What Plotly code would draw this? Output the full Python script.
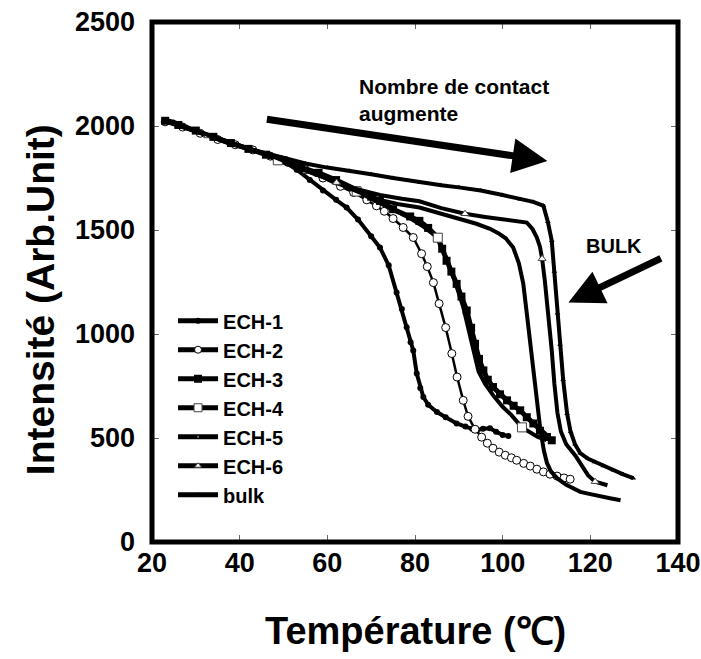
import plotly.graph_objects as go

# ---------------- data ----------------
ech1_T = [23, 26, 30, 34, 38, 42, 46, 50, 53, 56, 59, 62, 64.4, 67, 70, 72, 74, 75.8, 77, 78.1,
          79, 79.6, 80.4, 81.2, 81.9, 83, 85, 87, 89.5, 91.5, 93, 94.1, 95.5, 97.1, 98.5, 100, 101.3]
ech1_I = [2025, 2005, 1975, 1945, 1915, 1890, 1865, 1830, 1790, 1740, 1690, 1645, 1608, 1550, 1470, 1416, 1330, 1200, 1120, 1033,
          960, 921, 810, 740, 697, 660, 625, 600, 570, 555, 545, 537, 545, 547, 530, 515, 510]

ech2_T = [23, 27, 31, 35, 39, 43, 47, 51, 55, 59, 63, 66, 69, 71.2, 73, 75, 77.3, 79.6, 81.5, 82.8,
          84.2, 85.5, 87, 88.4, 89.6, 91, 92.1, 93.7, 95.2, 96.5, 97.8, 99.2, 100.6, 102, 103.2, 104.8,
          106.3, 107.8, 109.3, 110.8, 112.4, 114, 115.4]
ech2_I = [2020, 1995, 1965, 1935, 1910, 1885, 1855, 1825, 1790, 1750, 1710, 1680, 1645, 1616, 1590, 1555, 1512, 1464, 1386, 1324,
          1247, 1146, 1031, 906, 793, 681, 604, 542, 504, 475, 451, 432, 417, 405, 393, 378,
          365, 350, 337, 326, 317, 308, 302]

ech3_T = [23, 26, 30, 34, 38, 42, 46, 50, 54, 58, 62, 66.7, 70, 72, 75, 78.9, 81, 83, 85.2, 86.2,
          87.2, 88.3, 89.5, 90.6, 91.8, 92.8, 93.7, 94.6, 95.6, 96.6, 97.8, 99.4, 101, 102.5, 104, 105.5,
          107, 108.5, 110.1, 111.2]
ech3_I = [2025, 2005, 1978, 1948, 1918, 1890, 1862, 1835, 1800, 1775, 1740, 1690, 1660, 1640, 1600, 1565, 1544, 1510, 1463, 1410,
          1352, 1300, 1241, 1180, 1113, 1030, 953, 880, 825, 780, 745, 710, 681, 655, 633, 600,
          570, 535, 505, 489]

ech4_T = [23, 27, 31, 35, 40, 44, 48.7, 53, 57, 62, 66.7, 71, 75, 79, 82, 85.2, 87, 89, 91, 92.5,
          93.5, 94.5, 96, 98, 100, 102, 104.4, 106, 108, 110]
ech4_I = [2025, 1995, 1968, 1940, 1905, 1878, 1835, 1800, 1770, 1735, 1685, 1640, 1598, 1555, 1515, 1463, 1370, 1260, 1130, 1000,
          900, 820, 760, 700, 650, 610, 551, 530, 505, 490]
ech4_mark_idx = [6, 10, 15, 26]

ech5_T = [23, 28, 33, 38, 43, 48, 52, 56, 60, 64, 68, 72, 76, 81, 85, 90, 94, 97.1, 99, 100.7,
          102.4, 103.7, 104.7, 105.5, 106.3, 107.5, 108.6, 109.4, 110.1, 111, 112.4, 114.5, 117.7, 120,
          122, 124.5, 126.9]
ech5_I = [2025, 1990, 1950, 1915, 1885, 1850, 1815, 1780, 1745, 1705, 1675, 1645, 1625, 1608, 1585, 1555, 1530, 1506, 1485, 1460,
          1416, 1340, 1242, 1100, 960, 750, 540, 440, 380, 340, 307, 275, 241, 230,
          220, 210, 201]

ech6_T = [23, 28, 32.7, 37, 42, 47, 52, 56, 62.1, 67, 72, 77, 81, 86, 91.4, 96, 100, 103, 105.5, 106.8,
          107.8, 108.5, 109, 109.6, 110.1, 110.7, 111.2, 111.8, 112.5, 113.3, 114.5, 116.6, 118, 119.5,
          121.1, 122.5, 123.9]
ech6_I = [2030, 1990, 1952, 1920, 1890, 1860, 1820, 1785, 1728, 1695, 1668, 1650, 1638, 1605, 1578, 1563, 1552, 1545, 1536, 1505,
          1464, 1420, 1362, 1260, 1160, 1040, 921, 760, 620, 530, 470, 415, 370, 320,
          290, 280, 273]
ech6_mark_idx = [2, 8, 14, 22, 34]

bulk_T = [23, 25, 28, 31, 34, 37, 40, 43, 46.9, 50, 55, 60, 65, 70, 75, 81.1, 86, 90, 95, 100,
          104, 107, 109.3, 110.3, 111.2, 111.8, 112.5, 113.1, 113.8, 114.7, 115.5, 116.5, 117.7, 119.5,
          121, 123, 125.3, 127.5, 129.8]
bulk_I = [2030, 2020, 1995, 1970, 1945, 1922, 1902, 1885, 1864, 1845, 1820, 1800, 1785, 1768, 1750, 1728, 1715, 1705, 1690, 1668,
          1648, 1635, 1616, 1540, 1448, 1300, 1100, 950, 780, 617, 530, 470, 427, 400,
          385, 365, 345, 325, 307]

x_ticks = [20, 40, 60, 80, 100, 120, 140]
y_ticks = [0, 500, 1000, 1500, 2000, 2500]
legend_names = ["ECH-1", "ECH-2", "ECH-3", "ECH-4", "ECH-5", "ECH-6", "bulk"]

# ---------------- figure ----------------
FONT = "Liberation Sans, Arial, sans-serif"
LW = 4
fig = go.Figure()

def add_line(T, I, **kw):
    fig.add_trace(go.Scatter(x=T, y=I, showlegend=False, hoverinfo="skip", **kw))

add_line(ech1_T, ech1_I, mode="lines+markers", line=dict(color="black", width=LW),
         marker=dict(symbol="circle", size=6, color="black"))
add_line(ech2_T, ech2_I, mode="lines+markers", line=dict(color="black", width=2.5),
         marker=dict(symbol="circle", size=8, color="white", line=dict(color="black", width=1)))
add_line(ech3_T, ech3_I, mode="lines+markers", line=dict(color="black", width=LW + 1),
         marker=dict(symbol="square", size=8, color="black"))
add_line(ech4_T, ech4_I, mode="lines", line=dict(color="black", width=LW))
add_line([ech4_T[i] for i in ech4_mark_idx], [ech4_I[i] for i in ech4_mark_idx], mode="markers",
         marker=dict(symbol="square", size=9, color="white", line=dict(color="#444", width=1)))
add_line(ech5_T, ech5_I, mode="lines", line=dict(color="black", width=LW))
add_line(ech6_T, ech6_I, mode="lines", line=dict(color="black", width=LW))
add_line([ech6_T[i] for i in ech6_mark_idx], [ech6_I[i] for i in ech6_mark_idx], mode="markers",
         marker=dict(symbol="triangle-up", size=7, color="white", line=dict(color="#444", width=1)))
add_line(bulk_T, bulk_I, mode="lines+markers", line=dict(color="black", width=LW),
         marker=dict(symbol="triangle-up", size=5, color="black"))

# legend entries (no data points, style only)
leg_styles = [
    dict(symbol="circle", size=6, color="black"),
    dict(symbol="circle", size=7, color="white", line=dict(color="black", width=1)),
    dict(symbol="square", size=8, color="black"),
    dict(symbol="square", size=8, color="white", line=dict(color="#444", width=1)),
    dict(symbol="circle", size=2, color="#888"),
    dict(symbol="triangle-up", size=6, color="white", line=dict(color="#444", width=1)),
    dict(symbol="triangle-up", size=5, color="black"),
]
for name, mk in zip(legend_names, leg_styles):
    fig.add_trace(go.Scatter(x=[None], y=[None], name=name, mode="lines+markers",
                             line=dict(color="black", width=LW + 1), marker=mk))

axis_common = dict(showgrid=False, zeroline=False, showline=False, ticks="inside", ticklen=7,
                   tickwidth=1, tickcolor="#666", mirror="ticks", automargin=False,
                   tickfont=dict(family=FONT, size=27, color="black", weight="bold"))
fig.update_xaxes(range=[20, 140], tickvals=x_ticks, ticklabelstandoff=2, **axis_common)
fig.update_yaxes(range=[0, 2500], tickvals=y_ticks, ticklabelstandoff=16, **axis_common)

fig.add_shape(type="rect", xref="paper", yref="paper", x0=0, x1=1, y0=0, y1=1,
              line=dict(color="black", width=5), layer="above")

annotations = [
    dict(text="Température (℃)", xref="paper", yref="paper", x=0.5, y=-0.172, showarrow=False,
         xanchor="center", yanchor="middle", font=dict(family=FONT, size=38, color="black", weight="bold")),
    dict(text="Intensité (Arb.Unit)", xref="paper", yref="paper", x=-0.212, y=0.466, showarrow=False,
         textangle=-90, xanchor="center", yanchor="middle",
         font=dict(family=FONT, size=39, color="black", weight="bold")),
    dict(text="Nombre de contact<br>augmente", x=66.8, y=2125, showarrow=False, align="left",
         xanchor="left", yanchor="middle", font=dict(family=FONT, size=21, color="black", weight="bold")),
    dict(text="BULK", x=125.5, y=1424, showarrow=False, xanchor="center", yanchor="middle",
         font=dict(family=FONT, size=20, color="black", weight="bold")),
    dict(text="", x=110.2, y=1832, ax=-282, ay=-42, showarrow=True, arrowhead=2, arrowsize=1,
         arrowwidth=7, arrowcolor="black"),
    dict(text="", x=115.0, y=1151, ax=94, ay=-45, showarrow=True, arrowhead=2, arrowsize=1,
         arrowwidth=7, arrowcolor="black"),
]

fig.update_layout(
    width=701, height=659,
    margin=dict(l=152, r=23, t=22, b=117, autoexpand=False),
    paper_bgcolor="white", plot_bgcolor="white",
    annotations=annotations,
    legend=dict(x=0.04, y=0.463, xanchor="left", yanchor="top", bgcolor="rgba(0,0,0,0)",
                font=dict(family=FONT, size=20, color="black", weight="bold"),
                tracegroupgap=0, itemwidth=40),
)

fig.write_html("out.html", config={"displayModeBar": False},
               post_script="document.body.style.margin='0';")
